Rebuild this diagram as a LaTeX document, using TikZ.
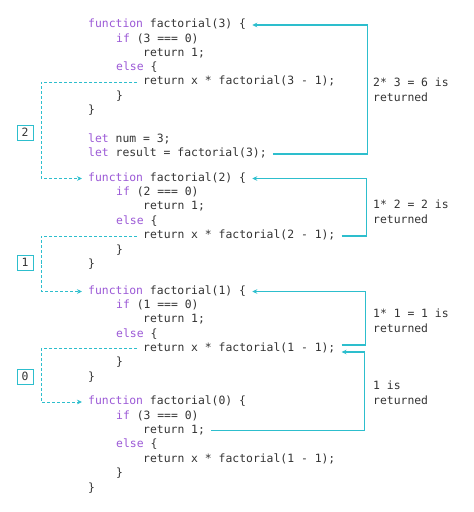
\documentclass[tikz,border=0pt]{standalone}
\usepackage{fontspec}
\setmonofont{DejaVu Sans Mono}
\usetikzlibrary{arrows.meta}
\definecolor{kwpurple}{RGB}{155,89,214}
\definecolor{flowteal}{RGB}{45,190,205}
\definecolor{codegray}{RGB}{51,51,51}
\newcommand{\kw}[1]{\textcolor{kwpurple}{#1}}

\begin{document}
\begin{tikzpicture}[x=1pt,y=-1pt,>={Stealth[length=5pt,width=4.6pt]},
    code line/.style={anchor=west,inner xsep=6pt,inner ysep=0pt,text height=8pt,text depth=2.5pt,
                      font=\ttfamily\fontsize{11.4}{14}\selectfont,text=codegray},
    ret note/.style={anchor=west,align=left,inner sep=0pt,
                     font=\ttfamily\fontsize{11.4}{15}\selectfont,text=codegray},
    depth box/.style={draw=flowteal,line width=0.8pt,minimum width=16pt,minimum height=15pt,
                      inner sep=0pt,font=\ttfamily\fontsize{11.4}{14}\selectfont,text=codegray},
    return flow/.style={->,draw=flowteal,line width=1.4pt},
    call flow/.style={->,draw=flowteal,line width=0.9pt,dash pattern=on 3pt off 2pt}]

  \useasboundingbox (0,0) rectangle (474,512);

  % factorial(3)
  \node[code line] (f3) at (82,25) {\kw{function} factorial(3) \{};
  \node[code line] (f3if) at (110,39.5) {\kw{if} (3 === 0)};
  \node[code line] (f3one) at (137,53.5) {return 1;};
  \node[code line] (f3else) at (110,68) {\kw{else} \{};
  \node[code line] (f3rec) at (137,82) {return x * factorial(3 - 1);};
  \node[code line] (f3inner) at (110,96.5) {\}};
  \node[code line] (f3end) at (82,111) {\}};
  \node[code line] (num) at (82,139.5) {\kw{let} num = 3;};
  \node[code line] (result) at (82,154) {\kw{let} result = factorial(3);};

  % factorial(2)
  \node[code line] (f2) at (82,178.5) {\kw{function} factorial(2) \{};
  \node[code line] (f2if) at (110,193) {\kw{if} (2 === 0)};
  \node[code line] (f2one) at (137,207) {return 1;};
  \node[code line] (f2else) at (110,221.5) {\kw{else} \{};
  \node[code line] (f2rec) at (137,236) {return x * factorial(2 - 1);};
  \node[code line] (f2inner) at (110,250.5) {\}};
  \node[code line] (f2end) at (82,265) {\}};

  % factorial(1)
  \node[code line] (f1) at (82,291.5) {\kw{function} factorial(1) \{};
  \node[code line] (f1if) at (110,306) {\kw{if} (1 === 0)};
  \node[code line] (f1one) at (137,320) {return 1;};
  \node[code line] (f1else) at (110,334.5) {\kw{else} \{};
  \node[code line] (f1rec) at (137,348.5) {return x * factorial(1 - 1);};
  \node[code line] (f1inner) at (110,363) {\}};
  \node[code line] (f1end) at (82,377.5) {\}};

  % factorial(0)
  \node[code line] (f0) at (82,402) {\kw{function} factorial(0) \{};
  \node[code line] (f0if) at (110,416.5) {\kw{if} (3 === 0)};
  \node[code line] (f0one) at (137,430.5) {return 1;};
  \node[code line] (f0else) at (110,445) {\kw{else} \{};
  \node[code line] (f0rec) at (137,459.5) {return x * factorial(1 - 1);};
  \node[code line] (f0inner) at (110,474) {\}};
  \node[code line] (f0end) at (82,488.5) {\}};

  % returned values
  \node[ret note] (ret3) at (373,90) {2* 3 = 6 is\\returned};
  \node[ret note] (ret2) at (373,211.5) {1* 2 = 2 is\\returned};
  \node[ret note] (ret1) at (373,321) {1* 1 = 1 is\\returned};
  \node[ret note] (ret0) at (373,393) {1 is\\returned};

  % call depth
  \node[depth box] (d2) at (25,132.5) {2};
  \node[depth box] (d1) at (25,262.5) {1};
  \node[depth box] (d0) at (25,376.5) {0};

  \draw[call flow] (f3rec.west) -| ([xshift=8pt]d2.east) |- (f2.west);
  \draw[call flow] (f2rec.west) -| ([xshift=8pt]d1.east) |- (f1.west);
  \draw[call flow] (f1rec.west) -| ([xshift=8pt]d0.east) |- (f0.west);

  \draw[return flow] (result.east) -| ([xshift=-5.5pt]ret3.west) |- (f3.east);
  \draw[return flow] (f2rec.east) -| ([xshift=-6.5pt]ret2.west) |- (f2.east);
  \draw[return flow] ([yshift=3.5pt]f1rec.east) -| ([xshift=-7.5pt]ret1.west) |- (f1.east);
  \draw[return flow] (f0one.east) -| ([xshift=-8.5pt]ret0.west) |- ([yshift=-3.5pt]f1rec.east);
\end{tikzpicture}
\end{document}
